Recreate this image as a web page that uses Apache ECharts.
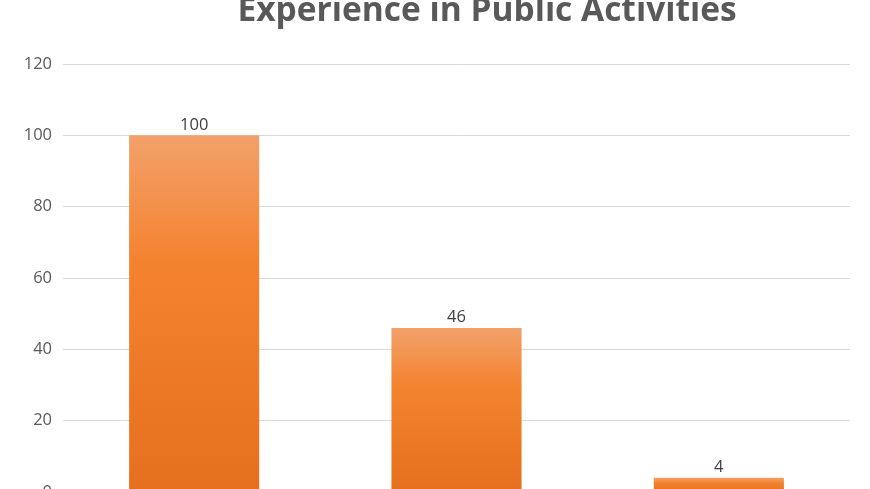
<!DOCTYPE html>
<html><head><meta charset="utf-8">
<script src="https://cdn.jsdelivr.net/npm/echarts@6/dist/echarts.min.js"></script>
<style>html,body{margin:0;padding:0;background:#fff}#c{width:870px;height:489px}</style>
</head><body><div id="c"></div>
<script>
const categories = ['A', 'B', 'C'];
const values = [100, 46, 4];
const yTicks = [0, 20, 40, 60, 80, 100, 120];
const titleText = 'Experience in Public Activities';

const chart = echarts.init(document.getElementById('c'));
chart.setOption({
  animation: false,
  title: {
    text: titleText, left: 482, textAlign: 'center', top: -11,
    textStyle: {fontFamily: 'Open Sans', fontWeight: 'bold', fontSize: 33.5, color: '#595959'}
  },
  grid: {left: 63, right: 20, top: 64, height: 428, outerBoundsMode: 'none', containLabel: false},
  xAxis: {
    type: 'category', data: categories,
    axisLine: {lineStyle: {color: '#D9D9D9'}}, axisTick: {show: false},
    axisLabel: {show: false}
  },
  yAxis: {
    type: 'value', min: yTicks[0], max: yTicks[yTicks.length - 1], interval: 20,
    axisLine: {show: false}, axisTick: {show: false},
    axisLabel: {color: '#595959', fontSize: 16.5, fontFamily: 'Open Sans', margin: 11},
    splitLine: {lineStyle: {color: '#D9D9D9', width: 1}}
  },
  series: [{
    type: 'bar', data: values, barWidth: '49.6%',
    itemStyle: {
      color: new echarts.graphic.LinearGradient(0, 0, 0, 1, [
        {offset: 0, color: '#F2A16B'},
        {offset: 0.35, color: '#F4832F'},
        {offset: 1, color: '#E56F1E'}
      ])
    },
    label: {show: true, position: 'top', color: '#404040', fontSize: 16.5, fontFamily: 'Open Sans', distance: 2}
  }]
});
</script></body></html>
